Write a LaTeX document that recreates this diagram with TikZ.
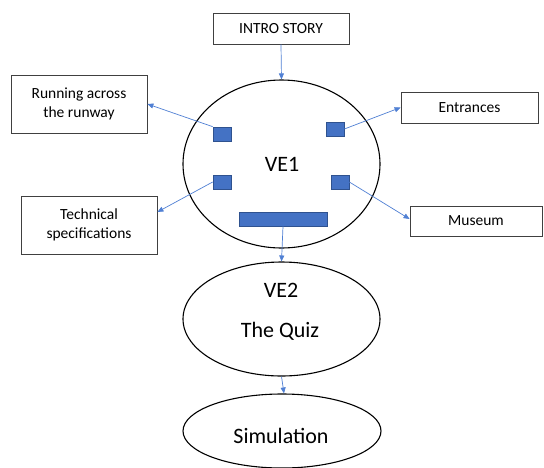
\documentclass[tikz,border=0pt]{standalone}
\usepackage{fontspec}
\setmainfont{Carlito}
\usetikzlibrary{shapes.geometric,arrows.meta}
\definecolor{blu}{RGB}{68,114,196}
\definecolor{bluedge}{RGB}{47,82,143}
\definecolor{boxedge}{RGB}{64,64,64}
\definecolor{lineblue}{RGB}{80,128,212}
\tikzset{
  txtbox/.style={draw=boxedge,line width=0.8pt,fill=white,inner sep=0pt,align=center,font=\fontsize{15.5}{19}\selectfont},
  oval/.style={draw=black,line width=1.1pt,ellipse,inner sep=0pt},
  sqr/.style={draw=bluedge,fill=blu,line width=0.7pt,inner sep=0pt,minimum width=18pt,minimum height=14pt},
  conn/.style={draw=lineblue,line width=0.7pt,-{Triangle[length=6pt,width=5pt]}},
  bigtxt/.style={font=\fontsize{22}{26}\selectfont,inner sep=0pt,anchor=base}
}
\begin{document}
\begin{tikzpicture}[x=1pt,y=-1pt]
\useasboundingbox (0,0) rectangle (544,467);
\fill[white] (0,0) rectangle (544,467);
\begin{scope}
\clip (0,0) rectangle (544,467);
% boxes
\node[txtbox,minimum width=136pt,minimum height=31pt] (intro) at (281,28.5) {INTRO STORY};
\node[txtbox,minimum width=136pt,minimum height=58pt] (run) at (79,104) {Running across\\the runway};
\node[txtbox,minimum width=136pt,minimum height=58pt] (tech) at (89,225) {Technical\\specifications};
\node[txtbox,minimum width=137pt,minimum height=31pt] (ent) at (469.5,107.5) {Entrances};
\node[txtbox,minimum width=132pt,minimum height=30pt] (mus) at (476,221) {Museum};
% ellipses
\node[oval,minimum width=197pt,minimum height=168pt] (ve1) at (281.5,164) {};
\node[oval,minimum width=197pt,minimum height=114pt] (ve2) at (281.5,319) {};
\node[oval,minimum width=198pt,minimum height=74pt] (sim) at (282,431) {};
% texts
\node[bigtxt] (t1) at (282,171) {VE1};
\node[bigtxt] (t2) at (281,297) {VE2};
\node[bigtxt] (t3) at (280,337) {The Quiz};
\node[bigtxt] (t4) at (281,443) {Simulation};
% squares
\node[sqr] (sq1) at (222,134) {};
\node[sqr] (sq2) at (222,182) {};
\node[sqr] (sq3) at (335,129) {};
\node[sqr] (sq4) at (340,182) {};
\node[sqr,minimum width=88pt] (bar) at (283,219) {};
% connectors
\draw[conn] (intro.south) -- (ve1.north);
\draw[conn] (sq1.north west) -- (run.east);
\draw[conn] (sq2.west) -- ([yshift=13pt]tech.east);
\draw[conn] (sq3.east) -- (ent.west);
\draw[conn] (sq4.east) -- ([yshift=2pt]mus.west);
\draw[conn] (bar.south) -- (ve2.north);
\draw[conn] (ve2.south) -- ([xshift=2pt]sim.north);
\end{scope}
\end{tikzpicture}
\end{document}
